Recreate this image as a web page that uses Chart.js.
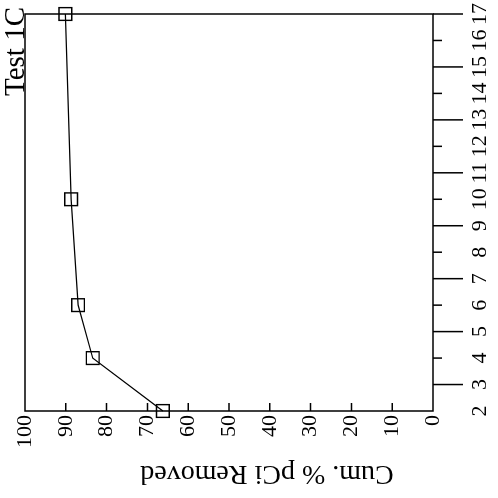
<!DOCTYPE html>
<html lang="en">
<head>
    <meta charset="UTF-8">
    <title>Test 1C</title>
    <script src="https://cdn.jsdelivr.net/npm/chart.js"></script>
    <style>
        body {
            margin: 0;
            background-color: #fff;
        }
        /* the plot is printed sideways: turn the whole canvas a quarter to the left */
        #wrap {
            width: 498px;
            height: 498px;
            transform: rotate(-90deg);
            transform-origin: 50% 50%;
        }
    </style>
</head>
<body>
    <div id="wrap">
        <canvas id="removalChart" width="498" height="498"></canvas>
    </div>

    <script>
        const sampleNumbers = [2, 4, 6, 10, 17];
        const cumRemoved = [66.2, 83.4, 87.0, 88.7, 90.1];

        const serif = '"Liberation Serif", "Times New Roman", serif';

        // box around the plot, hand-drawn tick marks, the test name and the rotated axis title
        const frame = {
            id: 'frame',
            afterDraw(chart) {
                const ctx = chart.ctx;
                const a = chart.chartArea;
                const x = chart.scales.x;
                const y = chart.scales.y;
                ctx.save();
                ctx.strokeStyle = '#000';
                ctx.lineWidth = 1.5;
                ctx.strokeRect(a.left, a.top, a.right - a.left, a.bottom - a.top);

                ctx.beginPath();
                x.ticks.forEach(t => {
                    if (t.value <= x.min) return;
                    const px = x.getPixelForValue(t.value);
                    const len = t.value % 2 ? 30 : 9;
                    ctx.moveTo(px, a.bottom);
                    ctx.lineTo(px, a.bottom + len);
                });
                y.ticks.forEach(t => {
                    if (t.value <= y.min || t.value >= y.max) return;
                    const py = y.getPixelForValue(t.value);
                    ctx.moveTo(a.left, py);
                    ctx.lineTo(a.left + 8, py);
                });
                ctx.stroke();

                ctx.fillStyle = '#000';
                ctx.font = '29px ' + serif;
                ctx.textAlign = 'right';
                ctx.textBaseline = 'alphabetic';
                ctx.fillText('Test 1C', a.right + 7, a.top - 1);

                ctx.translate(a.left - 62, (a.top + a.bottom) / 2 + 38);
                ctx.rotate(-Math.PI / 2);
                ctx.font = '28px ' + serif;
                ctx.textAlign = 'center';
                ctx.textBaseline = 'middle';
                ctx.fillText('Cum. % pCi Removed', 0, 0);
                ctx.restore();
            }
        };

        const ctx = document.getElementById('removalChart').getContext('2d');
        new Chart(ctx, {
            type: 'line',
            data: {
                datasets: [{
                    data: sampleNumbers.map((n, i) => ({ x: n, y: cumRemoved[i] })),
                    borderColor: '#000',
                    borderWidth: 1.3,
                    tension: 0,
                    pointStyle: 'rect',
                    pointRadius: 9,
                    pointBorderWidth: 1.4,
                    pointBorderColor: '#000',
                    pointBackgroundColor: 'rgba(0,0,0,0)',
                    clip: false
                }]
            },
            options: {
                responsive: false,
                animation: false,
                layout: {
                    padding: { left: 0, right: 14, top: 25, bottom: 0 }
                },
                plugins: {
                    legend: { display: false },
                    tooltip: { enabled: false }
                },
                scales: {
                    x: {
                        type: 'linear',
                        min: 2,
                        max: 17,
                        afterFit: scale => { scale.height = 65; },
                        // invisible tick marks only reserve room; the real ones are drawn by the frame plugin
                        grid: { drawOnChartArea: false, drawTicks: true, tickLength: 34, tickColor: 'rgba(0,0,0,0)' },
                        border: { display: false },
                        ticks: {
                            stepSize: 1,
                            autoSkip: false,
                            maxRotation: 0,
                            padding: 0,
                            color: '#000',
                            font: { family: serif, size: 22 }
                        }
                    },
                    y: {
                        min: 0,
                        max: 100,
                        afterFit: scale => { scale.width = 87; },
                        grid: { drawOnChartArea: false, drawTicks: true, tickLength: 4, tickColor: 'rgba(0,0,0,0)' },
                        border: { display: false },
                        ticks: {
                            stepSize: 10,
                            padding: 0,
                            color: '#000',
                            font: { family: serif, size: 22 }
                        }
                    }
                }
            },
            plugins: [frame]
        });
    </script>
</body>
</html>
